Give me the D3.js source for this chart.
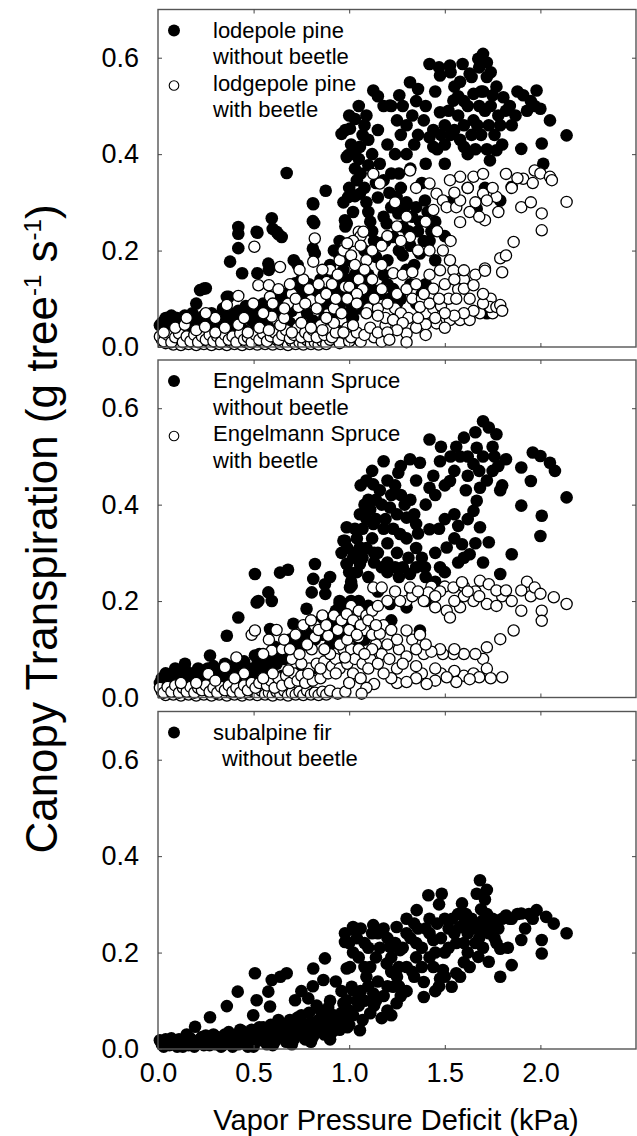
<!DOCTYPE html>
<html>
<head>
<meta charset="utf-8">
<script src="https://cdn.jsdelivr.net/npm/d3@7"></script>
<style>
  body { margin: 0; background: #fff; }
  svg { display: block; font-family: "Liberation Sans", Arial, sans-serif; }
  .tick text { fill: #000; }
  .tick line { stroke: #444; }
</style>
</head>
<body>
<svg id="chart" width="637" height="1136"></svg>
<script>
// tick values
var xTicks = [0.0, 0.5, 1.0, 1.5, 2.0];
var yTicks = [0.0, 0.2, 0.4, 0.6];

// [vpd (kPa), canopy transpiration (g tree-1 s-1)]
var pineNoBeetle = [
  [0.02,0.05],[0.04,0.06],[0.06,0.055],[0.08,0.045],[0.10,0.06],[0.12,0.05],[0.14,0.065],[0.16,0.055],[0.18,0.07],[0.20,0.06],
  [0.22,0.045],[0.24,0.065],[0.26,0.055],[0.28,0.07],[0.30,0.05],[0.32,0.065],[0.34,0.08],[0.36,0.06],[0.38,0.07],[0.40,0.05],
  [0.42,0.075],[0.44,0.06],[0.46,0.085],[0.48,0.065],[0.50,0.07],[0.52,0.055],[0.54,0.08],[0.56,0.06],[0.58,0.09],[0.60,0.07],
  [0.62,0.08],[0.64,0.1],[0.66,0.065],[0.68,0.09],[0.70,0.075],[0.72,0.1],[0.74,0.085],[0.76,0.11],[0.78,0.07],[0.80,0.095],
  [0.82,0.12],[0.84,0.08],[0.86,0.105],[0.88,0.13],[0.90,0.09],[0.92,0.115],[0.94,0.1],[0.96,0.14],[0.98,0.12],[1.0,0.1],
  [0.03,0.035],[0.09,0.03],[0.15,0.035],[0.21,0.03],[0.27,0.04],[0.33,0.035],[0.39,0.04],[0.45,0.035],[0.51,0.04],[0.57,0.045],
  [0.63,0.04],[0.69,0.05],[0.75,0.05],[0.81,0.055],[0.87,0.06],[0.93,0.06],[0.99,0.07],[1.05,0.08],[1.08,0.1],[1.02,0.12],
  [0.01,0.045],[0.05,0.04],[0.07,0.065],[0.11,0.04],[0.13,0.055],[0.17,0.045],[0.19,0.06],[0.23,0.055],[0.29,0.06],[0.31,0.045],
  [0.35,0.055],[0.37,0.07],[0.41,0.065],[0.43,0.05],[0.47,0.075],[0.49,0.055],[0.53,0.07],[0.55,0.09],[0.59,0.075],[0.61,0.1],
  [0.65,0.085],[0.67,0.11],[0.71,0.09],[0.73,0.12],[0.77,0.095],[0.79,0.13],[0.83,0.1],[0.85,0.125],[0.87,0.09],[0.89,0.11],
  [0.91,0.14],[0.93,0.13],[0.95,0.085],[0.97,0.11],[0.99,0.14],[1.01,0.09],[1.03,0.15],[1.06,0.1],[1.09,0.12],
  [0.2,0.09],[0.22,0.118],[0.24,0.121],[0.25,0.122],[0.36,0.104],[0.37,0.104],[0.377,0.177],[0.42,0.249],[0.42,0.235],[0.42,0.205],
  [0.44,0.153],[0.52,0.153],[0.516,0.239],[0.52,0.237],[0.595,0.267],[0.6,0.245],[0.62,0.239],[0.63,0.234],[0.647,0.228],[0.673,0.361],
  [0.577,0.173],[0.58,0.16],[0.71,0.18],[0.73,0.17],[0.75,0.14],[0.717,0.132],[0.8,0.11],[0.81,0.298],[0.812,0.296],[0.81,0.261],
  [0.817,0.257],[0.81,0.204],[0.82,0.194],[0.877,0.324],[0.89,0.159],[0.943,0.194],[0.978,0.263],[0.98,0.25],[0.995,0.311],[1.03,0.313],
  [0.995,0.398],[1.05,0.39],[1.03,0.37],[0.595,0.097],[0.66,0.1],[0.76,0.12],[0.85,0.14],[0.9,0.17],[0.92,0.2],[0.95,0.22],[0.97,0.16],
  [1.70,0.608],[1.675,0.598],[1.72,0.59],[1.593,0.587],[1.527,0.584],[1.42,0.587],[1.475,0.563],[1.63,0.567],[1.318,0.549],[1.36,0.535],
  [1.262,0.522],[1.126,0.532],[1.213,0.501],[1.18,0.5],[1.03,0.473],[1.004,0.453],[0.96,0.442],[0.987,0.394],[1.056,0.415],[1.1,0.43],
  [1.1,0.377],[1.30,0.46],[1.33,0.48],[1.36,0.44],[1.39,0.47],[1.475,0.487],[1.545,0.511],[1.6,0.51],[1.65,0.525],[1.7,0.53],
  [1.75,0.522],[1.806,0.518],[1.91,0.522],[1.98,0.532],[2.0,0.494],[2.05,0.47],[2.137,0.439],[2.007,0.422],[1.9,0.411],[1.85,0.332],
  [1.77,0.408],[1.72,0.41],[1.6,0.415],[1.44,0.415],[1.5,0.38],[1.42,0.435],[1.736,0.387],[1.79,0.46],[1.78,0.48],[1.55,0.45],
  [1.65,0.47],[1.68,0.5],[1.58,0.55],[1.45,0.53],[1.25,0.47],[1.15,0.45],[1.2,0.42],[1.3,0.4],[1.4,0.38],[1.57,0.48],
  [1.69,0.44],[1.62,0.4],[1.72,0.56],[1.82,0.49],[1.85,0.46],[1.12,0.4],[1.08,0.46],[1.35,0.51],[1.5,0.46],[1.55,0.54],
  [1.27,0.44],[1.95,0.51],[1.88,0.53],[1.07,0.44],
  [1.18,0.346],[1.248,0.311],[1.257,0.277],[1.196,0.256],[1.23,0.228],[1.16,0.215],[1.14,0.187],[1.04,0.346],[1.056,0.318],[0.987,0.256],
  [1.42,0.22],[1.37,0.194],[1.396,0.304],[1.667,0.287],[1.79,0.304],[2.015,0.38],[1.3,0.3],[1.28,0.25],[1.33,0.27],[1.36,0.24],
  [1.22,0.29],[1.1,0.28],[1.12,0.24],[1.08,0.2],[1.2,0.18],[1.26,0.2],[1.32,0.21],[1.15,0.31],[1.45,0.26],[1.5,0.23],
  [1.1,0.15],[1.05,0.13],[1.2,0.13],[1.3,0.16],[1.0,0.18],[1.02,0.28],[1.38,0.34],[1.62,0.33],[1.71,0.33],
  [1.38,0.11],[1.4,0.13],[1.72,0.07],[1.25,0.09],[1.45,0.18],[1.52,0.3],
  [0.97,0.3],[1.0,0.33],[1.01,0.42],[1.03,0.4],[1.06,0.36],[1.08,0.33],[1.09,0.3],[1.11,0.26],[1.13,0.22],[1.14,0.34],
  [1.16,0.38],[1.18,0.27],[1.19,0.22],[1.21,0.32],[1.22,0.36],[1.24,0.4],[1.26,0.36],[1.27,0.33],[1.29,0.29],[1.31,0.24],
  [1.32,0.37],[1.34,0.42],[1.35,0.29],[1.37,0.26],[1.39,0.22],[1.41,0.28],[1.43,0.24],[1.44,0.45],[1.46,0.41],[1.48,0.44],
  [1.5,0.42],[1.52,0.49],[1.53,0.44],[1.58,0.43],[1.6,0.46],[1.62,0.5],[1.64,0.44],[1.66,0.41],[1.67,0.46],[1.69,0.53],
  [1.71,0.49],[1.73,0.46],[1.74,0.5],[1.76,0.44],[1.8,0.42],[1.84,0.5],[1.87,0.48],[1.93,0.49],[1.97,0.5],[0.98,0.45],
  [1.0,0.48],[1.05,0.5],[1.09,0.48],[1.15,0.52],[1.22,0.5],[1.28,0.5],[1.4,0.5],[1.47,0.58],[1.53,0.57],[1.57,0.52],
  [1.64,0.56],[1.68,0.58],[1.74,0.57],[1.77,0.54],
  [0.9,0.06],[0.94,0.08],[0.97,0.05],[1.0,0.07],[1.02,0.06],[1.04,0.11],[1.07,0.14],[1.1,0.09],[1.12,0.12],[1.14,0.08],
  [1.16,0.11],[1.18,0.15],[1.21,0.1],[1.23,0.12],[1.27,0.1],[1.32,0.13],[1.35,0.09],[1.34,0.17],[1.28,0.19]
];

var pineBeetle = [
  [0.02,0.015],[0.04,0.008],[0.06,0.02],[0.08,0.005],[0.10,0.012],[0.12,0.004],[0.14,0.015],[0.16,0.006],[0.18,0.01],[0.20,0.004],
  [0.22,0.014],[0.24,0.006],[0.26,0.012],[0.28,0.004],[0.30,0.01],[0.32,0.006],[0.34,0.014],[0.36,0.004],[0.38,0.01],[0.40,0.006],
  [0.42,0.012],[0.44,0.004],[0.46,0.01],[0.48,0.006],[0.50,0.014],[0.52,0.005],[0.54,0.012],[0.56,0.006],[0.58,0.01],[0.60,0.005],
  [0.62,0.015],[0.64,0.006],[0.66,0.01],[0.68,0.004],[0.70,0.012],[0.72,0.006],[0.74,0.01],[0.76,0.005],[0.78,0.014],[0.80,0.006],
  [0.82,0.01],[0.84,0.005],[0.86,0.012],[0.88,0.006],[0.90,0.015],[0.95,0.008],[1.0,0.012],[1.06,0.011],[1.13,0.02],[1.17,0.011],
  [0.01,0.022],[0.03,0.012],[0.05,0.025],[0.07,0.01],[0.09,0.02],[0.11,0.028],[0.13,0.01],[0.15,0.022],[0.17,0.012],[0.19,0.025],
  [0.21,0.01],[0.23,0.022],[0.25,0.015],[0.27,0.025],[0.29,0.012],[0.31,0.022],[0.33,0.01],[0.35,0.025],[0.37,0.015],[0.39,0.022],
  [0.41,0.01],[0.43,0.028],[0.45,0.015],[0.47,0.02],[0.49,0.01],[0.51,0.025],[0.53,0.015],[0.55,0.028],[0.57,0.012],[0.59,0.022],
  [0.61,0.03],[0.63,0.015],[0.65,0.025],[0.67,0.035],[0.69,0.018],[0.71,0.025],[0.73,0.04],[0.75,0.02],[0.77,0.03],[0.79,0.022],
  [0.81,0.035],[0.83,0.02],[0.85,0.045],[0.87,0.025],[0.89,0.035],[0.91,0.02],[0.93,0.03],[0.96,0.055],[0.99,0.04],[1.01,0.02],
  [1.04,0.03],[1.08,0.025],[1.11,0.04],[1.15,0.03],[1.19,0.045],
  [0.03,0.03],[0.09,0.04],[0.14,0.046],[0.2,0.035],[0.246,0.042],[0.3,0.03],[0.35,0.04],[0.42,0.046],[0.47,0.03],[0.53,0.04],
  [0.58,0.035],[0.64,0.045],[0.7,0.03],[0.75,0.05],[0.8,0.04],[0.86,0.035],[0.92,0.05],[0.97,0.03],[1.02,0.045],
  [0.595,0.063],[0.66,0.06],[0.734,0.083],[0.8,0.097],[0.36,0.087],[0.42,0.106],[0.498,0.09],[0.525,0.128],[0.58,0.128],[0.586,0.104],
  [0.504,0.208],[0.638,0.166],[0.82,0.225],[0.882,0.135],[0.812,0.177],[0.978,0.125],[1.05,0.239],[1.06,0.23],[0.98,0.21],[0.7,0.11],
  [0.76,0.14],[0.85,0.1],[0.9,0.16],[0.92,0.08],[0.95,0.18],[0.88,0.06],[0.68,0.09],[0.55,0.07],[0.45,0.06],[0.3,0.06],[0.25,0.07],[0.15,0.06],
  [0.6,0.09],[0.63,0.12],[0.66,0.08],[0.69,0.13],[0.72,0.1],[0.74,0.16],[0.77,0.09],[0.79,0.12],[0.83,0.08],[0.84,0.13],
  [0.86,0.16],[0.88,0.11],[0.91,0.13],[0.93,0.1],[0.94,0.15],[0.96,0.07],[0.97,0.2],[1.01,0.19],[1.03,0.17],[1.05,0.14],
  [1.07,0.12],[1.1,0.08],[1.15,0.08],[1.19,0.06],[1.24,0.08],[1.27,0.07],[1.31,0.06],[1.33,0.1],[1.38,0.1],[1.4,0.07],
  [1.44,0.08],[1.48,0.085],[1.52,0.1],[1.57,0.12],[1.6,0.14],[1.66,0.15],[1.75,0.07],[1.74,0.1],
  [1.074,0.239],[1.02,0.22],[0.99,0.215],[1.06,0.21],[1.09,0.18],[1.23,0.153],[1.28,0.15],[1.33,0.155],[1.0,0.125],[1.04,0.11],
  [0.99,0.1],[1.04,0.09],[1.09,0.07],[1.15,0.065],[1.23,0.056],[1.28,0.05],[1.37,0.083],[1.42,0.09],[1.12,0.14],[1.17,0.12],
  [1.13,0.1],[1.2,0.09],[1.25,0.11],[1.3,0.12],[1.08,0.16],[1.17,0.17],[1.12,0.2],[1.17,0.21],[1.2,0.23],
  [1.527,0.056],[1.457,0.049],[1.4,0.047],[1.35,0.04],[1.3,0.028],[1.58,0.056],[1.63,0.056],[1.684,0.07],[1.736,0.083],[1.77,0.083],
  [1.79,0.087],[1.8,0.075],[1.7,0.09],[1.65,0.075],[1.6,0.07],[1.55,0.065],[1.5,0.07],[1.45,0.06],[1.36,0.06],[1.25,0.035],
  [1.2,0.03],[1.4,0.025],[1.5,0.04],[1.21,0.015],[1.3,0.01],
  [1.44,0.121],[1.39,0.11],[1.475,0.159],[1.545,0.159],[1.6,0.159],[1.527,0.18],[1.49,0.2],[1.6,0.121],[1.65,0.128],[1.71,0.163],
  [1.71,0.158],[1.79,0.184],[1.86,0.218],[1.5,0.13],[1.55,0.14],[1.42,0.15],[1.35,0.13],[1.47,0.1],[1.56,0.1],[1.63,0.1],
  [1.7,0.11],[1.8,0.155],[1.82,0.19],
  [1.58,0.353],[1.527,0.346],[1.65,0.353],[1.7,0.359],[1.82,0.359],[1.91,0.349],[1.97,0.366],[2.0,0.36],[2.05,0.353],[2.06,0.346],
  [2.137,0.301],[2.007,0.277],[2.007,0.242],[1.9,0.29],[1.96,0.34],[1.126,0.359],[1.318,0.366],[1.42,0.339],[1.457,0.318],[1.49,0.304],
  [1.51,0.29],[1.56,0.29],[1.58,0.304],[1.7,0.318],[1.77,0.311],[1.72,0.304],[1.58,0.259],[1.71,0.263],[1.44,0.284],[1.4,0.26],
  [1.318,0.228],[1.27,0.22],[1.16,0.339],[1.62,0.33],[1.66,0.3],[1.75,0.33],[1.85,0.33],[1.88,0.35],[1.55,0.32],[1.35,0.33],
  [1.24,0.3],[1.3,0.27],[1.36,0.2],[1.25,0.25],[1.42,0.2],[1.46,0.24],[1.53,0.22],[1.63,0.28],[1.68,0.27],[1.78,0.28],[1.95,0.3]
];

var spruceNoBeetle = [
  [0.02,0.04],[0.04,0.05],[0.06,0.035],[0.08,0.05],[0.1,0.04],[0.12,0.055],[0.14,0.06],[0.16,0.045],[0.18,0.05],[0.2,0.04],
  [0.22,0.055],[0.24,0.045],[0.26,0.06],[0.272,0.087],[0.28,0.05],[0.3,0.04],[0.32,0.055],[0.34,0.045],[0.36,0.06],[0.38,0.05],
  [0.4,0.04],[0.42,0.055],[0.44,0.065],[0.46,0.05],[0.48,0.06],[0.5,0.045],[0.507,0.087],[0.52,0.07],[0.54,0.055],[0.56,0.08],
  [0.58,0.065],[0.6,0.09],[0.62,0.07],[0.64,0.1],[0.66,0.08],[0.68,0.11],[0.7,0.09],[0.72,0.12],[0.74,0.1],[0.76,0.13],
  [0.78,0.11],[0.8,0.14],[0.82,0.12],[0.84,0.15],[0.86,0.13],[0.88,0.16],[0.9,0.14],[0.92,0.17],[0.94,0.15],[0.96,0.18],
  [0.98,0.16],[0.03,0.02],[0.1,0.025],[0.17,0.03],[0.25,0.03],[0.33,0.03],[0.41,0.035],[0.49,0.035],[0.57,0.04],[0.65,0.045],
  [0.73,0.05],[0.81,0.06],[0.89,0.07],[0.97,0.08],[1.03,0.1],[1.08,0.12],[0.141,0.07],
  [0.01,0.03],[0.05,0.045],[0.07,0.03],[0.09,0.06],[0.11,0.045],[0.13,0.035],[0.15,0.05],[0.19,0.04],[0.21,0.06],[0.23,0.035],
  [0.27,0.045],[0.29,0.065],[0.31,0.05],[0.35,0.07],[0.37,0.045],[0.39,0.065],[0.43,0.05],[0.45,0.075],[0.47,0.055],[0.51,0.06],
  [0.53,0.09],[0.55,0.065],[0.59,0.08],[0.61,0.105],[0.63,0.085],[0.67,0.095],[0.69,0.12],[0.71,0.1],[0.75,0.115],[0.77,0.14],
  [0.79,0.125],[0.83,0.135],[0.85,0.16],[0.87,0.145],[0.91,0.155],[0.93,0.18],[0.95,0.165],[0.99,0.19],[1.01,0.2],[1.06,0.17],
  [0.9,0.11],[0.96,0.13],[1.02,0.14],[1.05,0.12],
  [0.36,0.128],[0.42,0.166],[0.507,0.256],[0.516,0.197],[0.525,0.2],[0.577,0.218],[0.595,0.2],[0.586,0.142],[0.638,0.259],[0.68,0.265],
  [0.708,0.153],[0.777,0.184],[0.804,0.218],[0.812,0.246],[0.821,0.277],[0.873,0.235],[0.875,0.215],[0.978,0.194],[0.987,0.277],[1.013,0.232],
  [0.978,0.325],[1.03,0.3],[0.93,0.13],[0.95,0.2],[0.9,0.25],
  [1.70,0.573],[1.73,0.56],[1.77,0.546],[1.6,0.539],[1.42,0.535],[1.667,0.518],[1.96,0.508],[2.0,0.501],[2.05,0.487],[2.076,0.47],
  [1.82,0.494],[1.9,0.477],[1.95,0.449],[2.137,0.415],[1.9,0.398],[2.007,0.377],[2.0,0.335],[1.85,0.297],[1.79,0.256],[1.73,0.322],
  [1.63,0.297],[1.57,0.28],[1.684,0.353],[1.65,0.387],[1.57,0.356],[1.59,0.318],[1.51,0.311],[1.5,0.37],[1.42,0.349],[1.475,0.27],
  [1.396,0.27],[1.318,0.256],[1.257,0.466],[1.318,0.494],[1.37,0.487],[1.475,0.49],[1.527,0.449],[1.65,0.484],[1.684,0.435],[1.79,0.43],
  [1.667,0.408],[1.61,0.43],[1.42,0.435],[1.126,0.442],[1.056,0.38],[0.987,0.353],[0.97,0.325],[1.126,0.36],[1.213,0.394],[1.3,0.373],
  [1.266,0.339],[1.056,0.311],[0.987,0.277],[1.056,0.277],[1.13,0.28],[1.2,0.28],[1.004,0.228],[1.213,0.194],[1.3,0.187],[0.95,0.194],
  [1.37,0.139],[1.1,0.41],[1.16,0.43],[1.2,0.45],[1.08,0.4],[1.03,0.35],[1.15,0.3],[1.25,0.3],[1.3,0.33],[1.35,0.31],
  [1.4,0.4],[1.45,0.42],[1.35,0.45],[1.55,0.47],[1.58,0.5],[1.7,0.5],[1.75,0.47],[1.62,0.46],[1.48,0.52],[1.26,0.25],
  [1.1,0.25],[1.15,0.22],[1.33,0.22],[1.22,0.16],[1.1,0.19],[1.05,0.2],[1.4,0.2],[1.45,0.24],[1.7,0.28],[1.5,0.26],
  [1.18,0.35],[1.35,0.36],[1.06,0.44],[1.75,0.52],
  [0.96,0.3],[0.99,0.31],[1.0,0.26],[1.02,0.29],[1.04,0.33],[1.07,0.35],[1.09,0.37],[1.11,0.39],[1.14,0.41],[1.17,0.4],
  [1.19,0.37],[1.22,0.42],[1.24,0.44],[1.27,0.42],[1.29,0.4],[1.32,0.41],[1.34,0.38],[1.36,0.34],[1.38,0.29],[1.4,0.25],
  [1.35,0.27],[1.31,0.29],[1.28,0.27],[1.24,0.27],[1.2,0.26],[1.17,0.27],[1.13,0.3],[1.09,0.31],[1.07,0.29],[1.04,0.26],
  [1.01,0.24],[1.12,0.33],[1.14,0.37],[1.2,0.32],[1.23,0.35],[1.25,0.38],[1.09,0.45],[1.12,0.47],[1.18,0.49],[1.27,0.48],
  [1.44,0.46],[1.5,0.44],[1.53,0.5],[1.56,0.52],[1.62,0.5],[1.66,0.55],[1.68,0.47],[1.72,0.45],[1.76,0.5],[1.78,0.48],
  [1.8,0.44],[1.62,0.37],[1.55,0.38],[1.47,0.35],[1.45,0.3],[1.55,0.33],[1.6,0.29],[1.66,0.32]
];

var spruceBeetle = [
  [0.02,0.012],[0.04,0.005],[0.06,0.015],[0.08,0.006],[0.10,0.012],[0.12,0.004],[0.14,0.014],[0.16,0.006],[0.18,0.01],[0.20,0.004],
  [0.22,0.012],[0.24,0.006],[0.26,0.014],[0.28,0.004],[0.30,0.01],[0.32,0.006],[0.34,0.012],[0.36,0.004],[0.38,0.01],[0.40,0.006],
  [0.42,0.014],[0.44,0.004],[0.46,0.01],[0.48,0.006],[0.50,0.012],[0.52,0.005],[0.54,0.014],[0.56,0.006],[0.58,0.01],[0.60,0.004],
  [0.62,0.012],[0.64,0.006],[0.66,0.014],[0.68,0.004],[0.70,0.01],[0.72,0.006],[0.74,0.012],[0.76,0.005],[0.78,0.014],[0.80,0.006],
  [0.82,0.01],[0.84,0.005],[0.86,0.012],[0.88,0.006],[0.90,0.014],[0.94,0.008],[0.98,0.012],
  [0.01,0.02],[0.03,0.01],[0.05,0.022],[0.07,0.012],[0.09,0.025],[0.11,0.01],[0.13,0.02],[0.15,0.012],[0.17,0.022],[0.19,0.01],
  [0.21,0.02],[0.23,0.015],[0.25,0.025],[0.27,0.012],[0.29,0.02],[0.31,0.01],[0.33,0.022],[0.35,0.015],[0.37,0.025],[0.39,0.012],
  [0.41,0.02],[0.43,0.01],[0.45,0.025],[0.47,0.015],[0.49,0.03],[0.51,0.02],[0.53,0.03],[0.57,0.025],[0.59,0.035],[0.61,0.02],
  [0.63,0.04],[0.65,0.025],[0.67,0.045],[0.69,0.03],[0.71,0.05],[0.73,0.035],[0.75,0.045],[0.77,0.03],[0.79,0.06],[0.81,0.035],
  [0.83,0.07],[0.85,0.04],[0.87,0.075],[0.89,0.05],[0.91,0.065],[0.93,0.08],[0.95,0.06],[0.97,0.1],[0.99,0.07],[1.01,0.1],
  [1.03,0.08],[1.05,0.1],[1.07,0.07],[1.11,0.08],[1.14,0.11],[1.17,0.09],[1.21,0.08],[1.26,0.1],[1.3,0.085],[1.33,0.12],[1.37,0.13],
  [0.263,0.049],[0.35,0.063],[0.41,0.083],[0.49,0.13],[0.507,0.139],[0.595,0.097],[0.65,0.1],[0.682,0.056],[0.786,0.049],[0.804,0.1],
  [0.821,0.125],[0.821,0.149],[0.89,0.128],[1.013,0.173],[1.03,0.165],[1.048,0.125],[0.978,0.083],[0.7,0.08],[0.75,0.07],[0.85,0.06],
  [0.9,0.09],[0.95,0.11],[0.6,0.05],[0.55,0.04],[0.45,0.05],[0.4,0.04],[0.3,0.035],[0.2,0.03],[0.12,0.03],[0.87,0.1],[0.93,0.05],
  [0.55,0.09],[0.58,0.12],[0.62,0.14],[0.66,0.12],[0.69,0.1],[0.72,0.13],[0.74,0.09],[0.76,0.15],[0.78,0.11],[0.8,0.16],
  [0.84,0.14],[0.86,0.17],[0.88,0.15],[0.92,0.17],[0.94,0.14],[0.96,0.16],[0.99,0.12],[1.01,0.19],[1.05,0.18],[1.09,0.17],
  [1.12,0.18],[1.15,0.19],[1.08,0.14],[1.12,0.13],[1.18,0.15],[1.22,0.14],[1.3,0.2],[1.33,0.21],[1.43,0.23],[1.5,0.23],
  [1.6,0.23],[1.66,0.22],[1.8,0.21],[1.95,0.21],[1.93,0.24],[1.7,0.08],[1.6,0.045],[1.38,0.05],[1.48,0.05],[1.25,0.03],
  [1.55,0.055],[1.65,0.05],[1.72,0.06],
  [1.126,0.228],[1.17,0.228],[1.318,0.228],[1.414,0.218],[1.475,0.22],[1.545,0.228],[1.59,0.239],[1.684,0.242],[1.73,0.235],[1.77,0.222],
  [1.82,0.222],[1.9,0.222],[1.97,0.228],[2.0,0.215],[2.07,0.208],[2.137,0.194],[2.007,0.18],[2.007,0.159],[1.9,0.18],[1.65,0.2],
  [1.72,0.194],[1.77,0.19],[1.58,0.187],[1.51,0.18],[1.45,0.187],[1.39,0.2],[1.266,0.2],[1.527,0.166],[1.6,0.21],[1.36,0.22],
  [1.24,0.22],[1.2,0.2],[1.55,0.2],[1.62,0.22],[1.45,0.21],[1.85,0.2],[1.68,0.21],
  [1.86,0.139],[1.79,0.121],[1.72,0.104],[1.66,0.09],[1.6,0.09],[1.545,0.09],[1.49,0.09],[1.39,0.09],[1.475,0.1],[1.43,0.095],
  [1.35,0.1],[1.3,0.139],[1.16,0.132],[1.25,0.12],[1.2,0.11],[1.12,0.1],[1.08,0.09],[1.4,0.11],[1.55,0.1],[0.987,0.173],
  [1.02,0.16],[1.06,0.15],[1.1,0.16],[1.14,0.15],[1.0,0.14],[1.04,0.13],
  [1.8,0.042],[1.74,0.04],[1.68,0.042],[1.63,0.038],[1.56,0.032],[1.51,0.042],[1.45,0.035],[1.405,0.028],[1.35,0.04],[1.3,0.032],
  [1.22,0.04],[1.13,0.028],[1.09,0.02],[1.065,0.008],[1.18,0.05],[1.25,0.06],[1.1,0.06],[1.02,0.05],[1.15,0.07],[1.28,0.07],
  [1.35,0.065],[1.45,0.06],[1.0,0.03],[1.06,0.04]
];

var firNoBeetle = [
  [0.02,0.01],[0.04,0.02],[0.06,0.008],[0.08,0.015],[0.1,0.005],[0.12,0.012],[0.14,0.02],[0.16,0.008],[0.18,0.015],[0.2,0.01],
  [0.22,0.02],[0.24,0.008],[0.26,0.015],[0.28,0.02],[0.3,0.01],[0.32,0.018],[0.34,0.008],[0.36,0.02],[0.38,0.012],[0.4,0.022],
  [0.42,0.01],[0.44,0.02],[0.46,0.012],[0.48,0.025],[0.5,0.015],[0.52,0.028],[0.54,0.018],[0.56,0.03],[0.58,0.02],[0.6,0.035],
  [0.62,0.022],[0.64,0.038],[0.66,0.025],[0.68,0.04],[0.7,0.028],[0.72,0.045],[0.74,0.03],[0.76,0.05],[0.78,0.035],[0.8,0.055],
  [0.82,0.04],[0.84,0.06],[0.86,0.045],[0.88,0.065],[0.9,0.05],[0.92,0.07],[0.94,0.055],[0.96,0.075],[0.98,0.06],[1.0,0.08],
  [0.5,0.005],[0.6,0.008],[0.7,0.01],[0.8,0.015],[0.9,0.02],[0.65,0.05],[0.75,0.07],[0.85,0.08],[0.55,0.045],[0.45,0.035],
  [0.35,0.03],[0.25,0.028],[0.15,0.03],
  [0.01,0.018],[0.03,0.005],[0.05,0.012],[0.07,0.022],[0.09,0.01],[0.11,0.02],[0.13,0.005],[0.17,0.022],[0.19,0.005],[0.21,0.015],
  [0.23,0.025],[0.27,0.008],[0.29,0.03],[0.31,0.025],[0.33,0.005],[0.37,0.035],[0.39,0.005],[0.41,0.03],[0.43,0.04],[0.47,0.005],
  [0.49,0.04],[0.51,0.02],[0.53,0.045],[0.57,0.01],[0.59,0.05],[0.61,0.015],[0.63,0.06],[0.67,0.015],[0.69,0.06],[0.71,0.02],
  [0.73,0.065],[0.77,0.02],[0.79,0.075],[0.81,0.025],[0.83,0.09],[0.87,0.03],[0.89,0.085],[0.91,0.035],[0.95,0.04],[0.97,0.095],
  [0.99,0.045],[1.02,0.07],[1.04,0.1],[1.07,0.06],[1.13,0.09],[1.2,0.08],[1.27,0.11],[1.22,0.07],
  [0.194,0.046],[0.272,0.066],[0.36,0.089],[0.417,0.119],[0.507,0.157],[0.577,0.119],[0.595,0.143],[0.64,0.15],[0.673,0.157],[0.516,0.101],
  [0.586,0.088],[0.498,0.07],[0.717,0.101],[0.812,0.167],[0.873,0.188],[0.865,0.143],[0.81,0.13],[0.786,0.105],[0.987,0.167],[0.978,0.24],
  [1.03,0.246],[1.0,0.22],[1.013,0.129],[0.96,0.12],[0.943,0.067],[0.9,0.1],[0.93,0.14],[0.75,0.12],
  [1.684,0.35],[1.72,0.33],[1.667,0.322],[1.414,0.319],[1.484,0.322],[1.47,0.3],[1.59,0.302],[1.353,0.288],[1.82,0.277],[1.9,0.281],
  [1.98,0.288],[2.03,0.274],[2.07,0.26],[2.137,0.24],[1.9,0.226],[2.007,0.226],[2.007,0.198],[1.85,0.174],[1.79,0.15],[1.73,0.181],
  [1.675,0.191],[1.79,0.208],[1.77,0.22],[1.63,0.17],[1.56,0.157],[1.49,0.164],[1.475,0.146],[1.536,0.129],[1.39,0.139],[1.39,0.108],
  [1.248,0.253],[1.126,0.257],[1.02,0.253],[0.978,0.222],[1.004,0.17],[1.11,0.17],[1.196,0.177],[1.3,0.17],[1.266,0.205],[1.44,0.226],
  [1.58,0.253],[1.7,0.267],[1.61,0.28],[1.09,0.15],[1.02,0.122],[0.987,0.101],[1.126,0.115],[1.23,0.129],[1.248,0.095],[1.11,0.074],
  [1.17,0.064],[1.056,0.039],[1.213,0.212],[1.3,0.24],[1.35,0.22],[1.4,0.25],[1.5,0.27],[1.55,0.24],[1.65,0.25],[1.75,0.26],
  [1.45,0.2],[1.35,0.19],[1.2,0.23],[1.1,0.21],[1.05,0.19],[1.15,0.14],[1.25,0.15],[1.33,0.16],[1.6,0.22],[1.52,0.21],
  [1.68,0.23],[1.42,0.27],[1.3,0.27],[1.15,0.24],[1.05,0.09],[1.0,0.05],[1.08,0.1],[1.18,0.11],[1.3,0.12],[1.45,0.12],
  [1.62,0.2],[1.72,0.28],[1.85,0.27],
  [1.02,0.2],[1.04,0.23],[1.06,0.25],[1.08,0.22],[1.12,0.24],[1.14,0.19],[1.16,0.21],[1.18,0.25],[1.22,0.19],[1.24,0.22],
  [1.26,0.17],[1.28,0.21],[1.32,0.23],[1.34,0.26],[1.36,0.25],[1.38,0.21],[1.38,0.17],[1.42,0.19],[1.42,0.24],[1.44,0.17],
  [1.46,0.26],[1.48,0.23],[1.5,0.2],[1.52,0.25],[1.54,0.27],[1.56,0.22],[1.57,0.28],[1.6,0.26],[1.62,0.24],[1.64,0.27],
  [1.66,0.22],[1.67,0.26],[1.69,0.29],[1.7,0.25],[1.71,0.31],[1.73,0.24],[1.75,0.27],[1.76,0.23],[1.78,0.25],[1.8,0.27],
  [1.84,0.27],[1.88,0.28],[1.94,0.28],[1.2,0.13],[1.14,0.1],[1.26,0.13],[1.34,0.15],[1.1,0.13],[1.06,0.12],[1.08,0.17],
  [1.22,0.16],[1.47,0.13],[1.5,0.15],[1.58,0.15],[1.6,0.18],[1.7,0.21],[1.83,0.21],[1.92,0.25],[1.96,0.27]
];

var legendPine = ["lodepole pine", "without beetle", "lodgepole pine", "with beetle"];
var legendSpruce = ["Engelmann Spruce", "without beetle", "Engelmann Spruce", "with beetle"];
var legendFir = ["subalpine fir", " without beetle"];

var panels = [
  { top: 9.5, filled: pineNoBeetle, open: pineBeetle, legend: legendPine },
  { top: 360, filled: spruceNoBeetle, open: spruceBeetle, legend: legendSpruce },
  { top: 711.5, filled: firNoBeetle, open: null, legend: legendFir }
];

var left = 158, right = 636, panelH = 337.5;
var svg = d3.select("#chart");

var x = d3.scaleLinear().domain([0, 2.5]).range([left, right]);

panels.forEach(function(p, i) {
  var y = d3.scaleLinear().domain([0, 0.7]).range([p.top + panelH, p.top]);
  var g = svg.append("g").attr("class", "panel");

  // dots: filled first, open on top
  g.append("g").selectAll("circle").data(p.filled).join("circle")
    .attr("cx", function(d) { return x(d[0]); })
    .attr("cy", function(d) { return y(d[1]); })
    .attr("r", 6.3)
    .attr("fill", "#000");

  if (p.open) {
    g.append("g").selectAll("circle").data(p.open).join("circle")
      .attr("cx", function(d) { return x(d[0]); })
      .attr("cy", function(d) { return y(d[1]); })
      .attr("r", 5.6)
      .attr("fill", "#fff")
      .attr("stroke", "#000")
      .attr("stroke-width", 1.3);
  }

  // frame
  g.append("rect")
    .attr("x", left).attr("y", p.top)
    .attr("width", right - left).attr("height", panelH)
    .attr("fill", "none").attr("stroke", "#555").attr("stroke-width", 1.4);

  // left axis with labels, ticks inside
  g.append("g").attr("transform", "translate(" + left + ",0)")
    .call(d3.axisLeft(y).tickValues(yTicks).tickSize(-4).tickPadding(19).tickFormat(d3.format(".1f")))
    .call(function(a) {
      a.select(".domain").remove();
      a.selectAll("text").attr("font-size", 27).attr("font-family", "Liberation Sans, Arial, sans-serif");
    });
  g.append("g").attr("transform", "translate(" + right + ",0)")
    .call(d3.axisRight(y).tickValues(yTicks.slice(1)).tickSize(-4).tickFormat(""))
    .call(function(a) { a.select(".domain").remove(); });
  g.append("g").attr("transform", "translate(0," + p.top + ")")
    .call(d3.axisTop(x).tickValues(xTicks.slice(1)).tickSize(-4).tickFormat(""))
    .call(function(a) { a.select(".domain").remove(); });

  var bottom = d3.axisBottom(x).tickValues(xTicks).tickSize(-4);
  if (i < 2) bottom.tickFormat("");
  else bottom.tickPadding(14).tickFormat(d3.format(".1f"));
  g.append("g").attr("transform", "translate(0," + (p.top + panelH) + ")")
    .call(bottom)
    .call(function(a) {
      a.select(".domain").remove();
      a.selectAll("text").attr("font-size", 27).attr("font-family", "Liberation Sans, Arial, sans-serif");
    });

  // legend
  var lg = g.append("g").attr("font-size", 22);
  p.legend.forEach(function(t, k) {
    lg.append("text")
      .attr("x", t.charAt(0) === " " ? 222 : 213)
      .attr("y", p.top + 28 + k * 26.5)
      .text(t.trim());
  });
  lg.append("circle").attr("cx", 174).attr("cy", p.top + 21).attr("r", 6).attr("fill", "#000");
  if (p.open) {
    lg.append("circle").attr("cx", 174).attr("cy", p.top + 76).attr("r", 4.8)
      .attr("fill", "#fff").attr("stroke", "#000").attr("stroke-width", 1.1);
  }
});

// axis titles
svg.append("text")
  .attr("x", 396).attr("y", 1130)
  .attr("text-anchor", "middle")
  .attr("font-size", 29)
  .text("Vapor Pressure Deficit (kPa)");

var yt = svg.append("text")
  .attr("transform", "translate(57,529) rotate(-90)")
  .attr("text-anchor", "middle")
  .attr("font-size", 44);
yt.append("tspan").text("Canopy Transpiration (g tree");
yt.append("tspan").attr("font-size", 24).attr("dy", -16).text("-1");
yt.append("tspan").attr("dy", 16).text(" s");
yt.append("tspan").attr("font-size", 24).attr("dy", -16).text("-1");
yt.append("tspan").attr("dy", 16).text(")");
</script>
</body>
</html>
